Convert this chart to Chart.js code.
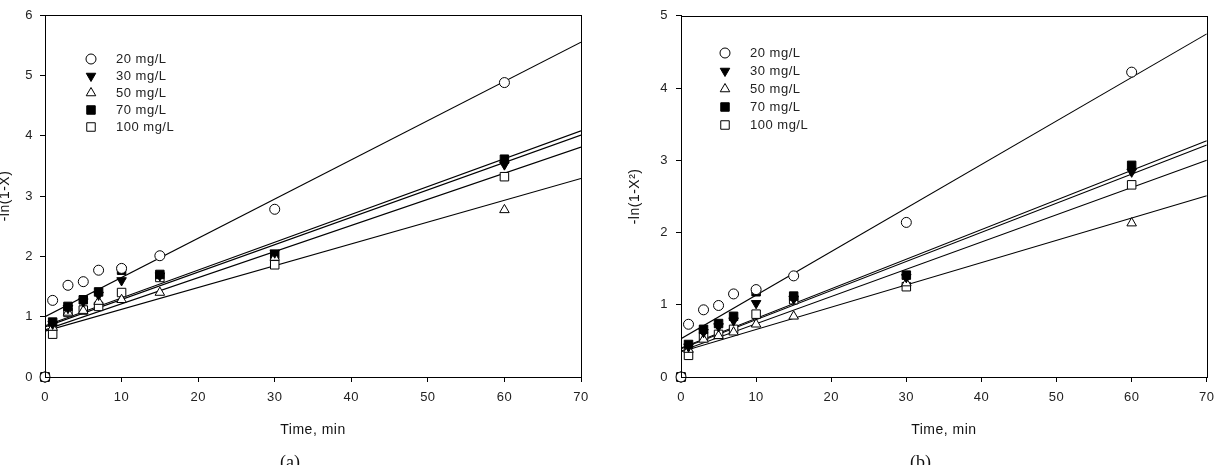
<!DOCTYPE html>
<html>
<head>
<meta charset="utf-8">
<script src="https://cdn.jsdelivr.net/npm/chart.js@4/dist/chart.umd.min.js"></script>
<style>
  html, body { margin: 0; padding: 0; background: #fff; }
  #wrap { position: relative; width: 1222px; height: 465px; overflow: hidden; }
  canvas { position: absolute; top: 0; }
  .cap { position: absolute; top: 452px; font: 18px "Liberation Serif", "Times New Roman", serif; color: #111; }
</style>
</head>
<body>
<div id="wrap">
  <canvas id="chartA" width="610" height="465" style="left:0"></canvas>
  <canvas id="chartB" width="612" height="465" style="left:610px"></canvas>
  <div class="cap" style="left:280px">(a)</div>
  <div class="cap" style="left:910px">(b)</div>
</div>
<script>
/* ── shared data ── */
const times   = [0, 1, 3, 5, 7, 10, 15, 30, 60];
const seriesNames = ['20 mg/L', '30 mg/L', '50 mg/L', '70 mg/L', '100 mg/L'];
const xTicks  = [0, 10, 20, 30, 40, 50, 60, 70];
const fitX    = [0, 70];

/* panel (a): -ln(1-X) */
const a20  = [0, 1.27, 1.52, 1.58, 1.77, 1.80, 2.01, 2.78, 4.88];
const a30  = [0, 0.88, 1.14, 1.25, 1.36, 1.60, 1.68, 2.06, 3.52];
const a50  = [0, 0.82, 1.07, 1.10, 1.25, 1.28, 1.40, 1.98, 2.77];
const a70  = [0, 0.91, 1.17, 1.28, 1.41, 1.77, 1.70, 2.03, 3.61];
const a100 = [0, 0.71, 1.07, 1.11, 1.17, 1.40, 1.65, 1.86, 3.32];
// fitted lines, value at t = 0 and t = 70
const aFit20  = [1.00, 5.55];
const aFit30  = [0.83, 4.01];
const aFit50  = [0.76, 3.29];
const aFit70  = [0.85, 4.08];
const aFit100 = [0.78, 3.81];
const aYTicks = [0, 1, 2, 3, 4, 5, 6];

/* panel (b): -ln(1-X^2) */
const b20  = [0, 0.73, 0.93, 0.99, 1.15, 1.21, 1.40, 2.14, 4.22];
const b30  = [0, 0.42, 0.62, 0.70, 0.78, 1.02, 1.08, 1.38, 2.84];
const b50  = [0, 0.38, 0.52, 0.57, 0.62, 0.73, 0.84, 1.30, 2.13];
const b70  = [0, 0.45, 0.66, 0.74, 0.84, 1.18, 1.12, 1.41, 2.93];
const b100 = [0, 0.30, 0.57, 0.59, 0.66, 0.87, 1.07, 1.25, 2.66];
const bFit20  = [0.53, 4.75];
const bFit30  = [0.39, 3.21];
const bFit50  = [0.35, 2.51];
const bFit70  = [0.40, 3.27];
const bFit100 = [0.36, 3.00];
const bYTicks = [0, 1, 2, 3, 4, 5];

/* marker look for each series, in seriesNames order */
const markers = [
  { pointStyle: 'circle',   rotation: 0,   radius: 5,   fill: '#fff' },
  { pointStyle: 'triangle', rotation: 180, radius: 5.5, fill: '#000' },
  { pointStyle: 'triangle', rotation: 0,   radius: 5.5, fill: '#fff' },
  { pointStyle: 'rect',     rotation: 0,   radius: 6,   fill: '#000' },
  { pointStyle: 'rect',     rotation: 0,   radius: 6,   fill: '#fff' },
];

const FONT = '"Liberation Sans", Arial, Helvetica, sans-serif';

/* the source figure's lettering runs a little wide */
const wideText = {
  id: 'wideText',
  beforeDraw(chart) { chart.ctx.letterSpacing = '0.5px'; },
};

/* ── box round the plot area ── */
const frame = {
  id: 'frame',
  afterDatasetsDraw(chart) {
    const { ctx, chartArea: a } = chart;
    ctx.save();
    ctx.strokeStyle = '#000';
    ctx.lineWidth = 1;
    ctx.strokeRect(Math.round(a.left) + 0.5, Math.round(a.top) + 0.5,
                   Math.round(a.right - a.left), Math.round(a.bottom - a.top));
    ctx.restore();
  },
};

/* ── legend stacked inside the plot ── */
const innerLegend = {
  id: 'innerLegend',
  afterDraw(chart, args, opts) {
    const { ctx } = chart;
    ctx.save();
    ctx.font = `13px ${FONT}`;
    ctx.textBaseline = 'middle';
    seriesNames.forEach((name, i) => {
      const m = markers[i];
      const y = opts.y + i * opts.step;
      ctx.fillStyle = m.fill;
      ctx.strokeStyle = '#000';
      ctx.lineWidth = 1;
      Chart.helpers.drawPoint(ctx, {
        pointStyle: m.pointStyle, rotation: m.rotation, radius: m.radius, borderWidth: 1,
      }, opts.symbolX, y);
      ctx.fillStyle = '#222';
      ctx.fillText(name, opts.textX, y);
    });
    ctx.restore();
  },
};

function toPoints(ys, xs = times) {
  return ys.map((y, i) => ({ x: xs[i], y }));
}

/* ─────────────────────────────────────────────────────────
   makePanel(canvasId, cfg) — one kinetics plot
   ───────────────────────────────────────────────────────── */
function makePanel(canvasId, cfg) {
  const pointSets = cfg.series.map((ys, i) => ({
    label: seriesNames[i],
    data: toPoints(ys),
    showLine: false,
    pointStyle: markers[i].pointStyle,
    rotation: markers[i].rotation,
    pointRadius: markers[i].radius,
    pointBackgroundColor: markers[i].fill,
    pointBorderColor: '#000',
    pointBorderWidth: 1,
    clip: false,
    order: 1,
  }));
  const lineSets = cfg.fits.map(f => ({
    data: toPoints(f, fitX),
    showLine: true,
    borderColor: '#000',
    borderWidth: 1.1,
    pointRadius: 0,
    order: 2,
  }));

  return new Chart(document.getElementById(canvasId), {
    type: 'scatter',
    data: { datasets: [...lineSets, ...pointSets] },
    options: {
      responsive: false,
      animation: false,
      events: [],
      layout: { padding: cfg.padding },
      plugins: {
        legend: { display: false },
        tooltip: { enabled: false },
        innerLegend: cfg.legend,
      },
      scales: {
        x: {
          type: 'linear',
          min: 0, max: 70,
          afterBuildTicks: s => { s.ticks = xTicks.map(v => ({ value: v })); },
          afterFit: s => { s.height = 88; },
          grid: { drawOnChartArea: false, drawTicks: true, tickLength: 5, color: '#000' },
          border: { display: true, color: '#000', width: 1 },
          ticks: { color: '#222', font: { family: FONT, size: 13 }, padding: 8, maxRotation: 0 },
          title: {
            display: true, text: 'Time, min', color: '#111',
            font: { family: FONT, size: 14 }, padding: { top: 0, bottom: 26 },
          },
        },
        y: {
          type: 'linear',
          min: 0, max: cfg.yTicks[cfg.yTicks.length - 1],
          afterBuildTicks: s => { s.ticks = cfg.yTicks.map(v => ({ value: v })); },
          afterFit: s => { s.width = cfg.yAxisWidth; },
          grid: { drawOnChartArea: false, drawTicks: true, tickLength: 5, color: '#000' },
          border: { display: true, color: '#000', width: 1 },
          ticks: { color: '#222', font: { family: FONT, size: 13 }, padding: cfg.tickPad },
          title: {
            display: true, text: cfg.yTitle, color: '#111',
            font: { family: FONT, size: 14, lineHeight: 1 }, padding: { top: cfg.titlePad, bottom: 0 },
          },
        },
      },
    },
    plugins: [wideText, frame, innerLegend],
  });
}

makePanel('chartA', {
  series: [a20, a30, a50, a70, a100],
  fits: [aFit20, aFit30, aFit50, aFit70, aFit100],
  yTicks: aYTicks,
  yTitle: '-ln(1-X)',
  yAxisWidth: 45,
  tickPad: 7,
  titlePad: -2,
  padding: { left: 0, top: 15, right: 29, bottom: 0 },
  legend: { symbolX: 91, textX: 116, y: 59, step: 17 },
});

makePanel('chartB', {
  series: [b20, b30, b50, b70, b100],
  fits: [bFit20, bFit30, bFit50, bFit70, bFit100],
  yTicks: bYTicks,
  yTitle: '-ln(1-X²)',
  yAxisWidth: 71,
  tickPad: 8,
  titlePad: 18,
  padding: { left: 0, top: 10, right: 9, bottom: 0 },
  legend: { symbolX: 115, textX: 140, y: 53, step: 18 },
});
</script>
</body>
</html>
